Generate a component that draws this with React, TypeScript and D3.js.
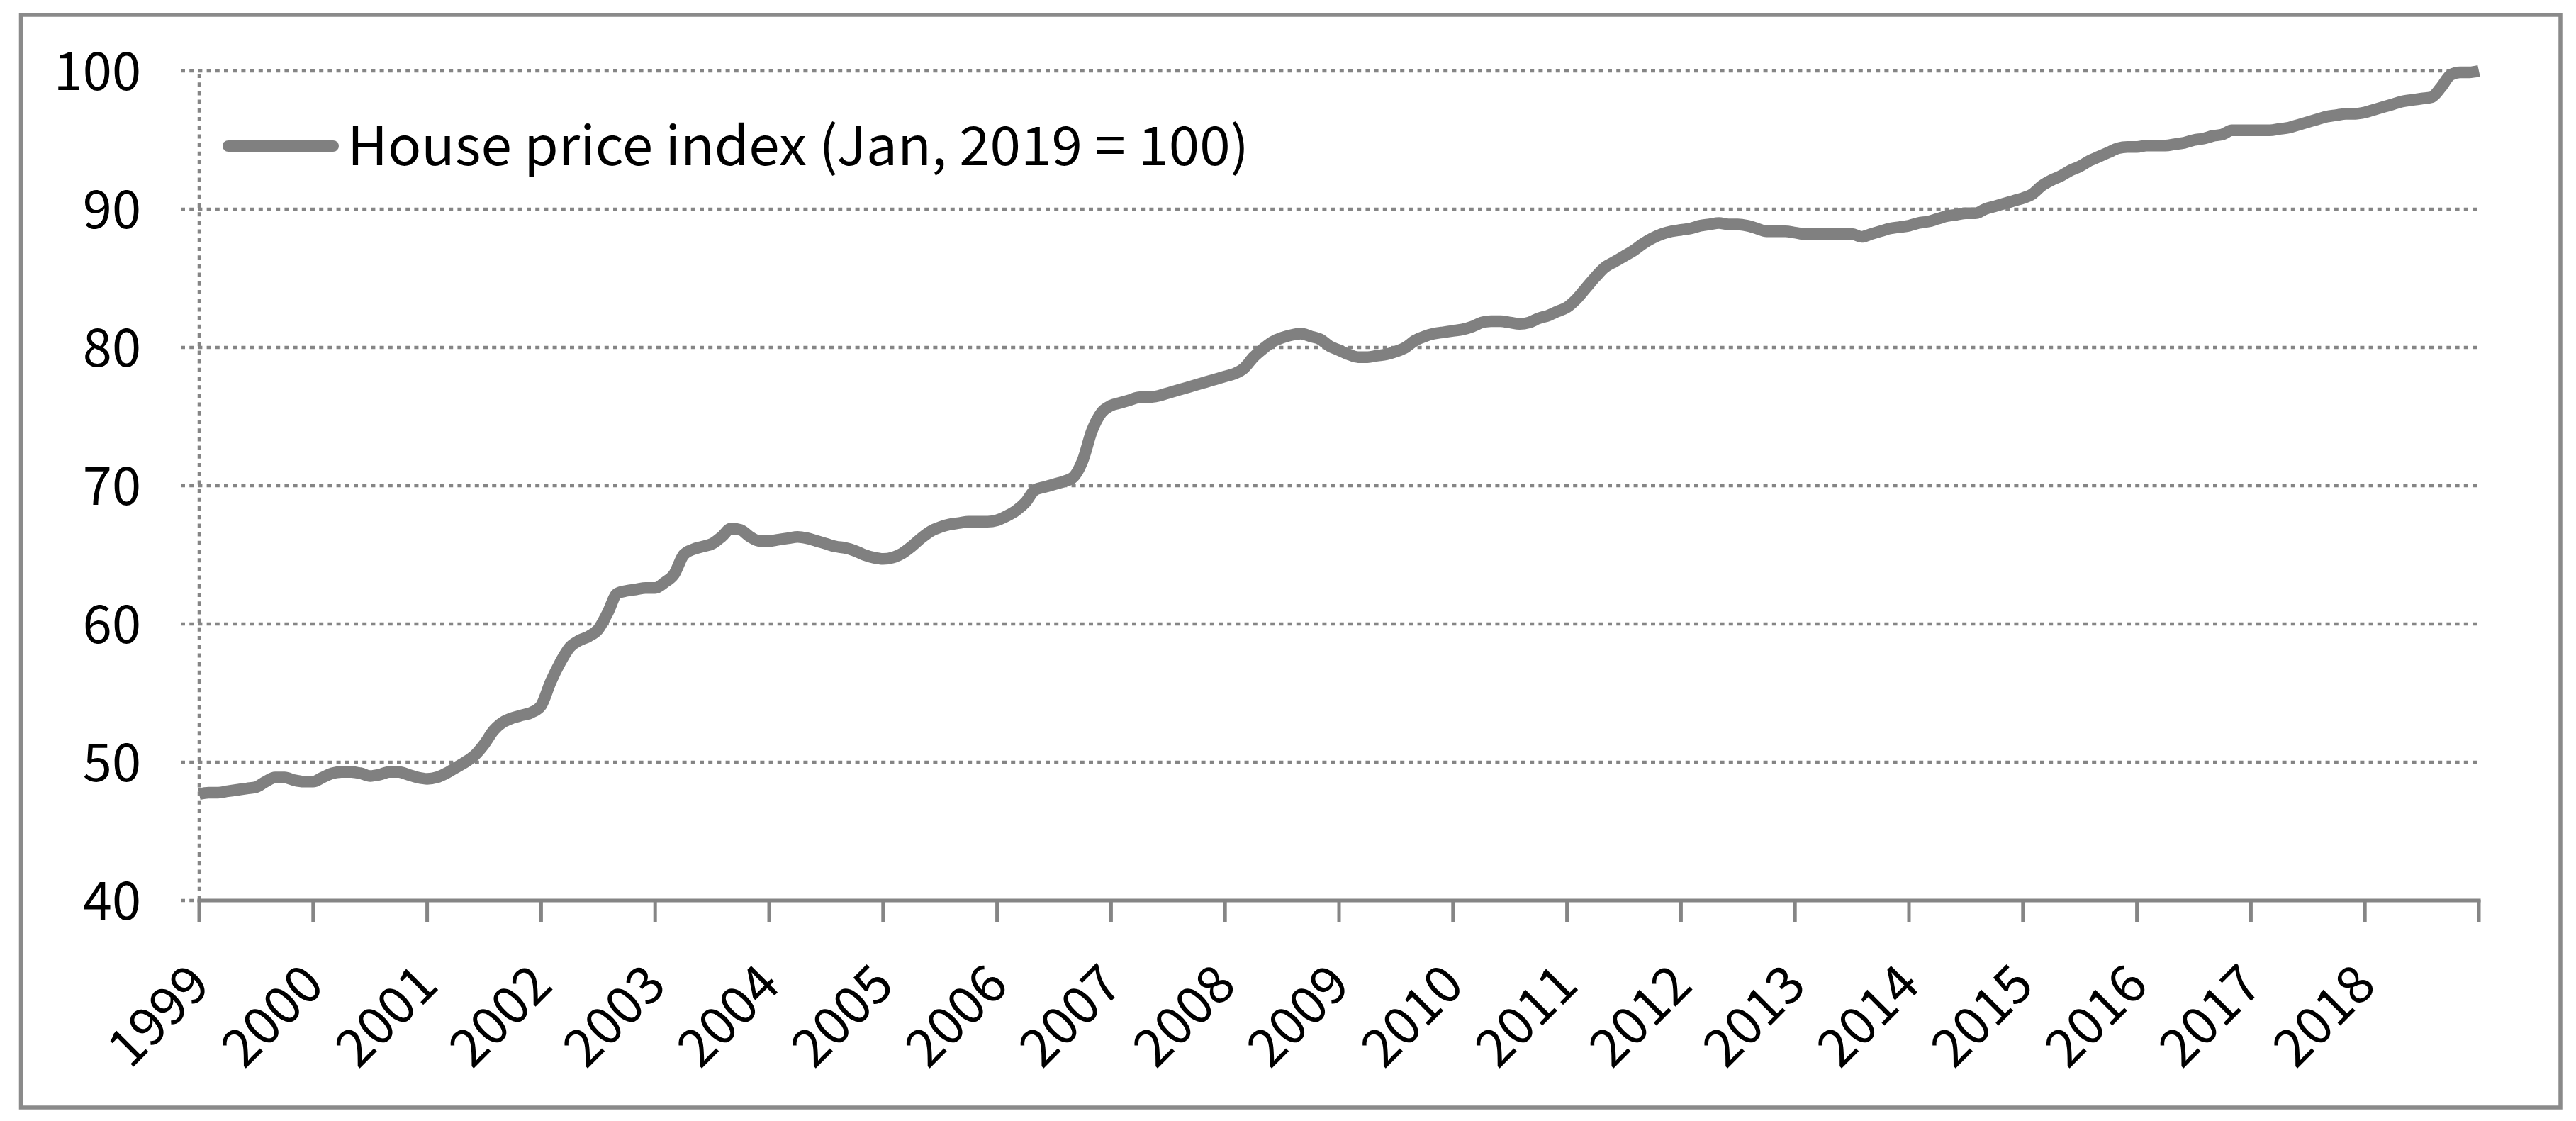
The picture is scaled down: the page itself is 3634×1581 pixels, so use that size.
import React from "react";
import * as d3 from "d3";

// Monthly house price index, Jan 1999 .. Jan 2019 (Jan 2019 = 100)
const hpi1999 = [47.7, 47.8, 47.8, 47.9, 48.0, 48.1, 48.2, 48.6, 48.9, 48.9, 48.7, 48.6];
const hpi2000 = [48.6, 48.9, 49.2, 49.3, 49.3, 49.2, 49.0, 49.1, 49.3, 49.3, 49.1, 48.9];
const hpi2001 = [48.8, 48.9, 49.2, 49.6, 50.0, 50.5, 51.3, 52.3, 52.9, 53.2, 53.4, 53.6];
const hpi2002 = [54.1, 55.8, 57.2, 58.3, 58.8, 59.1, 59.6, 60.8, 62.2, 62.4, 62.5, 62.6];
const hpi2003 = [62.6, 63.0, 63.6, 65.0, 65.4, 65.6, 65.8, 66.3, 66.9, 66.8, 66.3, 66.0];
const hpi2004 = [66.0, 66.1, 66.2, 66.3, 66.2, 66.0, 65.8, 65.6, 65.5, 65.3, 65.0, 64.8];
const hpi2005 = [64.7, 64.8, 65.1, 65.6, 66.2, 66.7, 67.0, 67.2, 67.3, 67.4, 67.4, 67.4];
const hpi2006 = [67.5, 67.8, 68.2, 68.8, 69.7, 69.9, 70.1, 70.3, 70.6, 71.8, 74.0, 75.3];
const hpi2007 = [75.8, 76.0, 76.2, 76.4, 76.4, 76.5, 76.7, 76.9, 77.1, 77.3, 77.5, 77.7];
const hpi2008 = [77.9, 78.1, 78.5, 79.3, 79.9, 80.4, 80.7, 80.9, 81.0, 80.8, 80.6, 80.1];
const hpi2009 = [79.8, 79.5, 79.3, 79.3, 79.4, 79.5, 79.7, 80.0, 80.5, 80.8, 81.0, 81.1];
const hpi2010 = [81.2, 81.3, 81.5, 81.8, 81.9, 81.9, 81.8, 81.7, 81.8, 82.1, 82.3, 82.6];
const hpi2011 = [82.9, 83.5, 84.3, 85.1, 85.8, 86.2, 86.6, 87.0, 87.5, 87.9, 88.2, 88.4];
const hpi2012 = [88.5, 88.6, 88.8, 88.9, 89.0, 88.9, 88.9, 88.8, 88.6, 88.4, 88.4, 88.4];
const hpi2013 = [88.3, 88.2, 88.2, 88.2, 88.2, 88.2, 88.2, 88.0, 88.2, 88.4, 88.6, 88.7];
const hpi2014 = [88.8, 89.0, 89.1, 89.3, 89.5, 89.6, 89.7, 89.7, 90.0, 90.2, 90.4, 90.6];
const hpi2015 = [90.8, 91.1, 91.7, 92.1, 92.4, 92.8, 93.1, 93.5, 93.8, 94.1, 94.4, 94.5];
const hpi2016 = [94.5, 94.6, 94.6, 94.6, 94.7, 94.8, 95.0, 95.1, 95.3, 95.4, 95.7, 95.7];
const hpi2017 = [95.7, 95.7, 95.7, 95.8, 95.9, 96.1, 96.3, 96.5, 96.7, 96.8, 96.9, 96.9];
const hpi2018 = [97.0, 97.2, 97.4, 97.6, 97.8, 97.9, 98.0, 98.1, 98.8, 99.7, 99.9, 99.9];
const hpi2019 = [100.0];

const hpiValues: number[] = [
  ...hpi1999, ...hpi2000, ...hpi2001, ...hpi2002, ...hpi2003,
  ...hpi2004, ...hpi2005, ...hpi2006, ...hpi2007, ...hpi2008,
  ...hpi2009, ...hpi2010, ...hpi2011, ...hpi2012, ...hpi2013,
  ...hpi2014, ...hpi2015, ...hpi2016, ...hpi2017, ...hpi2018, ...hpi2019,
];

const yTicks = [40, 50, 60, 70, 80, 90, 100];
const yearLabels = ["1999", "2000", "2001", "2002", "2003", "2004", "2005", "2006", "2007", "2008",
  "2009", "2010", "2011", "2012", "2013", "2014", "2015", "2016", "2017", "2018"];
const legendLabel = "House price index (Jan, 2019 = 100)";

const W = 3634;
const H = 1581;
const FONT = "'Malgun Gothic', 'Noto Sans CJK KR', 'Noto Sans', sans-serif";
const GRAY = "#858585";
const LINE = "#808080";

export default function App() {
  const x = d3.scaleLinear().domain([0, hpiValues.length - 1]).range([281, 3497]);
  const y = d3.scaleLinear().domain([40, 100]).range([1270, 100]);
  const line = d3
    .line<number>()
    .x((_, i) => x(i))
    .y((d) => y(d))
    .curve(d3.curveMonotoneX);

  const tickIdx = d3.range(0, hpiValues.length, 12);
  const x0 = x(0);
  const x1 = x(hpiValues.length - 1);
  const yBase = y(40);

  return (
    <svg
      width={W}
      height={H}
      style={{ position: "absolute", left: 0, top: 0, background: "#fff" }}
      fontFamily={FONT}
    >
      <rect x={0} y={0} width={W} height={H} fill="#fff" />
      {/* outer frame */}
      <rect x={29.5} y={21} width={3582.5} height={1541} fill="none" stroke="#8a8a8a" strokeWidth={5.5} />

      {/* horizontal gridlines (dotted) */}
      {yTicks.filter((t) => t !== 40).map((t) => (
        <line key={t} x1={x0 - 26} x2={x1} y1={y(t)} y2={y(t)} stroke={GRAY} strokeWidth={4.5} strokeDasharray="6 6.2" />
      ))}
      {/* small dotted tick left of axis at 40 */}
      <line x1={x0 - 26} x2={x0} y1={yBase} y2={yBase} stroke={GRAY} strokeWidth={4.5} strokeDasharray="6 6.2" />
      {/* vertical dotted y-axis */}
      <line x1={x0} x2={x0} y1={y(100) + 4} y2={yBase} stroke={GRAY} strokeWidth={4.5} strokeDasharray="6 6.2" />

      {/* y tick labels */}
      {yTicks.map((t) => (
        <text key={t} x={199} y={y(t)} dy="0.36em" textAnchor="end" fontSize={74} fill="#000">
          {t}
        </text>
      ))}

      {/* x axis */}
      <line x1={x0 - 2.5} x2={x1 + 2.5} y1={yBase} y2={yBase} stroke={GRAY} strokeWidth={5} />
      {tickIdx.map((i) => (
        <line key={i} x1={x(i)} x2={x(i)} y1={yBase} y2={yBase + 30} stroke={GRAY} strokeWidth={5} />
      ))}
      {yearLabels.map((lab, k) => {
        const tx = x(k * 12);
        const ty = yBase + 104;
        return (
          <text
            key={lab}
            x={tx}
            y={ty}
            dy="0.36em"
            textAnchor="end"
            fontSize={74}
            fill="#000"
            transform={`rotate(-45 ${tx} ${ty})`}
          >
            {lab}
          </text>
        );
      })}

      {/* data line */}
      <path d={line(hpiValues) || ""} fill="none" stroke={LINE} strokeWidth={16.5} strokeLinejoin="round" strokeLinecap="butt" />

      {/* legend */}
      <line x1={322} x2={470} y1={206} y2={206} stroke={LINE} strokeWidth={16} strokeLinecap="round" />
      <text x={490} y={233} fontSize={76} fill="#000" textLength={1272} lengthAdjust="spacingAndGlyphs">
        {legendLabel}
      </text>
    </svg>
  );
}
